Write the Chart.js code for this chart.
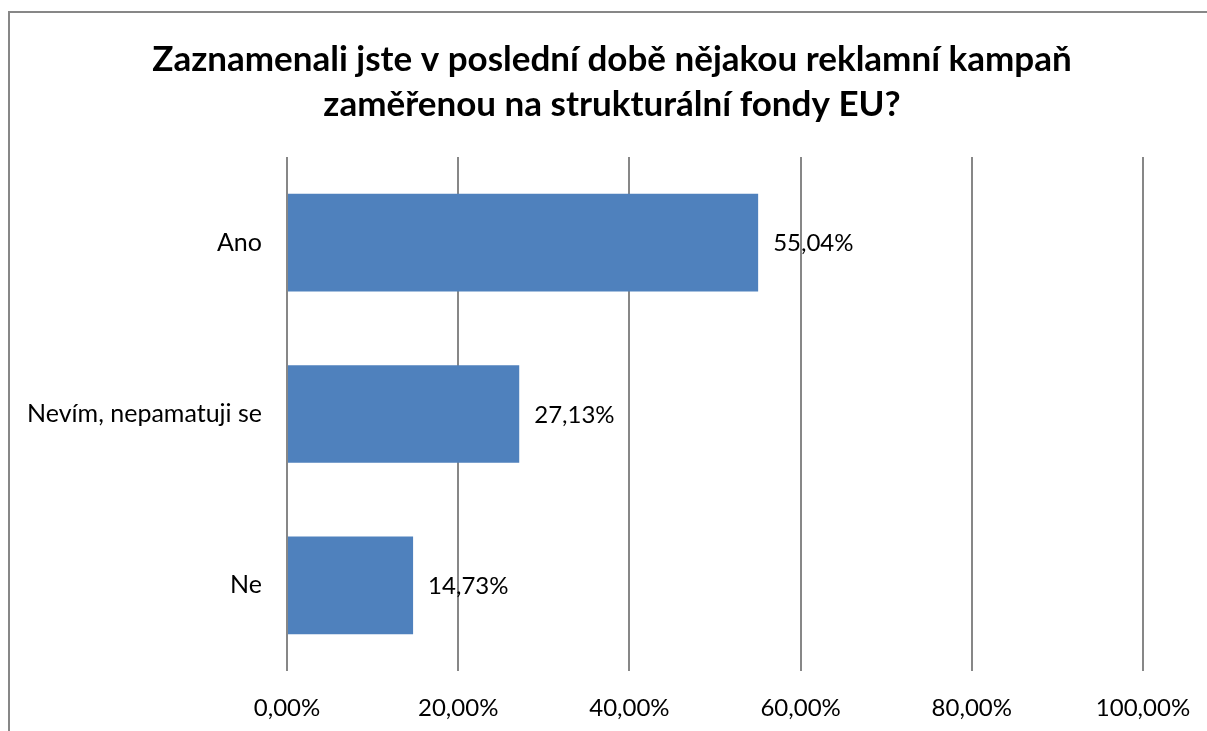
<!DOCTYPE html>
<html>
<head>
<meta charset="utf-8">
<script src="https://cdn.jsdelivr.net/npm/chart.js@4.4.0/dist/chart.umd.min.js"></script>
<style>
  html, body { margin: 0; padding: 0; background: #fff; overflow: hidden; }
  #box {
    position: absolute; left: 8px; top: 11px;
    width: 1208px; height: 740px;
    border: 2px solid #878787; background: #fff;
  }
</style>
</head>
<body>
<div id="box"><canvas id="chart-bar" width="1208" height="740"></canvas></div>
<script>
var categories = ["Ano", "Nevím, nepamatuji se", "Ne"];
var values = [55.04, 27.13, 14.73];
var tickValues = [0, 20, 40, 60, 80, 100];
var titleLines = ["Zaznamenali jste v poslední době nějakou reklamní kampaň", "zaměřenou na strukturální fondy EU?"];

var fontFamily = "Lato, 'Open Sans', sans-serif";

function pct(v) {
  return v.toFixed(2).replace(".", ",") + "%";
}

// title centred on the whole box, not on the padded area
var boxTitle = {
  id: "boxTitle",
  afterDraw: function (chart) {
    var ctx = chart.ctx;
    ctx.save();
    ctx.font = "bold 35px " + fontFamily;
    ctx.fillStyle = "#000";
    ctx.textAlign = "center";
    ctx.textBaseline = "middle";
    titleLines.forEach(function (line, i) {
      ctx.fillText(line, chart.width / 2 - 2, 47 + i * 45);
    });
    ctx.restore();
  },
};

// draw value labels next to the bars
var valueLabels = {
  id: "valueLabels",
  afterDatasetsDraw: function (chart) {
    var ctx = chart.ctx;
    var meta = chart.getDatasetMeta(0);
    ctx.save();
    ctx.font = "24px " + fontFamily;
    ctx.fillStyle = "#000";
    ctx.textAlign = "left";
    ctx.textBaseline = "middle";
    meta.data.forEach(function (bar, i) {
      ctx.fillText(pct(values[i]), bar.x + 15, bar.y + 1);
    });
    ctx.restore();
  },
};

var ctx = document.getElementById("chart-bar").getContext("2d");
new Chart(ctx, {
  type: "bar",
  data: {
    labels: categories,
    datasets: [
      {
        data: values,
        backgroundColor: "#4F81BD",
        borderWidth: 0,
        categoryPercentage: 1,
        barPercentage: 0.57,
      },
    ],
  },
  plugins: [valueLabels, boxTitle],
  options: {
    indexAxis: "y",
    responsive: false,
    animation: false,
    layout: {
      padding: { left: 0, right: 75, top: 144, bottom: 0 },
    },
    plugins: {
      legend: { display: false },
      tooltip: { enabled: false },
      title: { display: false },
    },
    scales: {
      x: {
        min: 0,
        max: 100,
        afterBuildTicks: function (axis) {
          axis.ticks = tickValues.map(function (v) { return { value: v }; });
        },
        afterFit: function (axis) {
          axis.height = 82;
        },
        grid: {
          color: "#878787",
          lineWidth: 2,
          drawTicks: false,
        },
        border: { display: false },
        ticks: {
          color: "#000",
          padding: 23,
          maxRotation: 0,
          font: { family: fontFamily, size: 24 },
          callback: function (v) { return pct(v); },
        },
      },
      y: {
        afterFit: function (axis) {
          axis.width = 277;
        },
        grid: { display: false, drawTicks: false },
        border: { display: false },
        ticks: {
          color: "#000",
          padding: 25,
          font: { family: fontFamily, size: 25 },
        },
      },
    },
  },
});
</script>
</body>
</html>
